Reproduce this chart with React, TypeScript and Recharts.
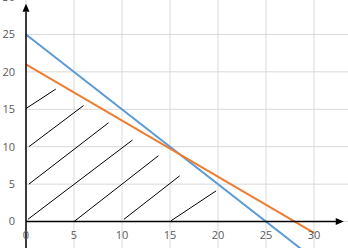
import {
  ComposedChart,
  Line,
  Scatter,
  XAxis,
  YAxis,
  CartesianGrid,
  ReferenceLine,
} from "recharts";

// axis ticks
const xTicks = [0, 5, 10, 15, 20, 25, 30, 35];
const yTicks = [0, 5, 10, 15, 20, 25, 30];
const xLabelValues = [0, 5, 10, 15, 20, 25, 30];

// constraint lines
const blueLine = [
  { x: 0, y: 25 },
  { x: 30, y: -5 },
];
const orangeLine = [
  { x: 0, y: 21 },
  { x: 30, y: -1.5 },
];

// hatching of the feasible region (start, end)
const hatchA = [{ x: 0, y: 15.1 }, { x: 3.1, y: 17.7 }];
const hatchB = [{ x: 0.3, y: 10 }, { x: 6, y: 15.5 }];
const hatchC = [{ x: 0.3, y: 5 }, { x: 8.6, y: 13.2 }];
const hatchD = [{ x: 0.2, y: 0.3 }, { x: 11.1, y: 10.9 }];
const hatchE = [{ x: 5, y: 0 }, { x: 13.8, y: 8.8 }];
const hatchF = [{ x: 10.2, y: 0.3 }, { x: 16, y: 6.1 }];
const hatchG = [{ x: 15.1, y: 0.1 }, { x: 19.8, y: 4.1 }];
const hatches = [hatchA, hatchB, hatchC, hatchD, hatchE, hatchF, hatchG];

// axis arrows
const yArrowTip = [{ x: 0, y: 29.1 }];
const xArrowTip = [{ x: 33.1, y: 0 }];

const xLabels = xLabelValues.map((v) => ({ x: v, y: 0 }));

const FONT = "'Open Sans', 'Liberation Sans', sans-serif";
const LABEL_COLOR = "#595959";

function XTickLabel(props: any) {
  const { cx, cy, payload } = props;
  return (
    <text
      x={cx}
      y={cy + 14}
      dy="0.35em"
      textAnchor="middle"
      fill={LABEL_COLOR}
      fontSize={11}
      fontFamily={FONT}
    >
      {payload.x}
    </text>
  );
}

function UpArrow(props: any) {
  const { cx, cy } = props;
  return <polygon points={`${cx},${cy} ${cx - 3.5},${cy + 8} ${cx + 3.5},${cy + 8}`} fill="#000" />;
}

function RightArrow(props: any) {
  const { cx, cy } = props;
  return <polygon points={`${cx},${cy} ${cx - 8},${cy - 3.5} ${cx - 8},${cy + 3.5}`} fill="#000" />;
}

export default function App() {
  return (
    <div
      style={{
        position: "absolute",
        left: 0,
        top: 0,
        width: 348,
        height: 248,
        overflow: "hidden",
        background: "#fff",
      }}
    >
      <div style={{ position: "absolute", left: 0, top: -20 }}>
        <ComposedChart width={362} height={279} margin={{ top: 17, right: 0, bottom: 0, left: 0 }}>
          <CartesianGrid stroke="#D9D9D9" strokeWidth={1} />
          <XAxis type="number" dataKey="x" domain={[0, 35]} ticks={xTicks} hide />
          <YAxis
            type="number"
            domain={[-5, 30]}
            ticks={yTicks}
            interval={0}
            width={26}
            axisLine={false}
            tickLine={false}
            tickMargin={5}
            tick={{ fill: LABEL_COLOR, fontSize: 11, fontFamily: FONT }}
          />
          {hatches.map((h, i) => (
            <Line
              key={i}
              data={h}
              dataKey="y"
              stroke="#000"
              strokeWidth={1}
              dot={false}
              isAnimationActive={false}
            />
          ))}
          <Line data={blueLine} dataKey="y" stroke="#5B9BD5" strokeWidth={2} dot={false} isAnimationActive={false} />
          <Line data={orangeLine} dataKey="y" stroke="#ED7D31" strokeWidth={2} dot={false} isAnimationActive={false} />
          <Scatter data={xLabels} dataKey="y" shape={XTickLabel} isAnimationActive={false} />
          <ReferenceLine
            segment={[
              { x: 0, y: -5 },
              { x: 0, y: 28 },
            ]}
            stroke="#000"
            strokeWidth={1.5}
          />
          <ReferenceLine
            segment={[
              { x: 0, y: 0 },
              { x: 32.4, y: 0 },
            ]}
            stroke="#000"
            strokeWidth={1.5}
          />
          <Scatter data={yArrowTip} dataKey="y" shape={UpArrow} isAnimationActive={false} />
          <Scatter data={xArrowTip} dataKey="y" shape={RightArrow} isAnimationActive={false} />
        </ComposedChart>
      </div>
    </div>
  );
}
